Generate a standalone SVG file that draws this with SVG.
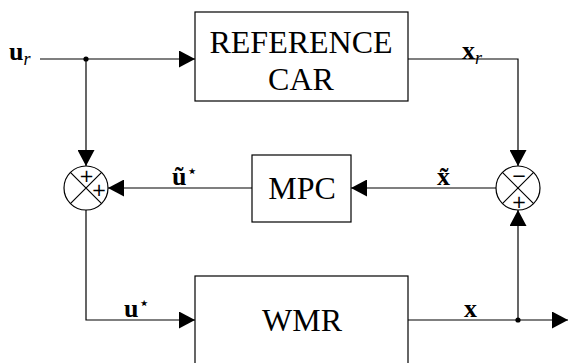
<svg xmlns="http://www.w3.org/2000/svg" width="568" height="363" viewBox="0 0 568 363">
  <defs>
    <marker id="arrow" markerUnits="userSpaceOnUse" markerWidth="17" markerHeight="17" refX="16" refY="8.5" orient="auto">
      <path d="M0,0 L16,8.5 L0,17 Z" fill="#000"/>
    </marker>
    <style>
      .box { fill: #fff; stroke: #000; stroke-width: 1.2; }
      .sum { fill: #fff; stroke: #000; stroke-width: 1.2; }
      .wire { fill: none; stroke: #000; stroke-width: 1.2; }
      .arr { marker-end: url(#arrow); }
      .title { font-size: 32px; text-anchor: middle; fill: #000; }
      .sym { font-size: 26px; font-weight: bold; fill: #000; }
      .sub { font-size: 18px; font-style: italic; font-weight: normal; }
      .sup { font-size: 18px; font-weight: normal; }
      .sign { font-size: 18px; text-anchor: middle; fill: #000; }
    </style>
  </defs>

  <!-- connectors -->
  <g id="connectors">
    <path class="wire arr" d="M40,59 H195"/>
    <path class="wire arr" d="M86,59 V166"/>
    <path class="wire arr" d="M408,59 H518 V166"/>
    <path class="wire arr" d="M496,188 H351"/>
    <path class="wire arr" d="M252,188 H108"/>
    <path class="wire arr" d="M86,210 V320 H195"/>
    <path class="wire arr" d="M408,320 H568"/>
    <path class="wire arr" d="M518,320 V210"/>
    <circle cx="86" cy="59" r="2.6" fill="#000"/>
    <circle cx="518" cy="320" r="2.6" fill="#000"/>
  </g>

  <!-- signal labels -->
  <g id="labels" font-family="Liberation Serif, Times New Roman, serif">
    <text class="sym" x="9" y="59.5">u<tspan class="sub" dy="5">r</tspan></text>
    <text class="sym" x="462" y="58.5">x<tspan class="sub" dy="5">r</tspan></text>
    <text class="sym" x="172" y="185">ũ<tspan class="sup" font-family="DejaVu Sans, sans-serif" dy="-8">⋆</tspan></text>
    <text class="sym" x="437" y="185">x̃</text>
    <text class="sym" x="124" y="316.5">u<tspan class="sup" font-family="DejaVu Sans, sans-serif" dy="-8">⋆</tspan></text>
    <text class="sym" x="464" y="317">x</text>
  </g>

  <g id="reference-car" font-family="Liberation Serif, Times New Roman, serif">
    <rect class="box" x="195" y="12" width="213" height="89"/>
    <text class="title" x="301" y="53">REFERENCE</text>
    <text class="title" x="301" y="90">CAR</text>
  </g>

  <g id="mpc" font-family="Liberation Serif, Times New Roman, serif">
    <rect class="box" x="252" y="155" width="99" height="67"/>
    <text class="title" x="302" y="199">MPC</text>
  </g>

  <g id="wmr" font-family="Liberation Serif, Times New Roman, serif">
    <rect class="box" x="195" y="276" width="213" height="92"/>
    <text class="title" x="302" y="331">WMR</text>
  </g>

  <g id="sum-input" font-family="DejaVu Sans, sans-serif">
    <circle class="sum" cx="86" cy="188" r="22"/>
    <path class="wire" d="M70.4,172.4 L101.6,203.6 M101.6,172.4 L70.4,203.6"/>
    <text class="sign" x="86.5" y="181.5">+</text>
    <text class="sign" x="99" y="195.5">+</text>
  </g>

  <g id="sum-error" font-family="DejaVu Sans, sans-serif">
    <circle class="sum" cx="518" cy="188" r="22"/>
    <path class="wire" d="M502.4,172.4 L533.6,203.6 M533.6,172.4 L502.4,203.6"/>
    <text class="sign" x="519" y="181.5">−</text>
    <text class="sign" x="519" y="208">+</text>
  </g>
</svg>
